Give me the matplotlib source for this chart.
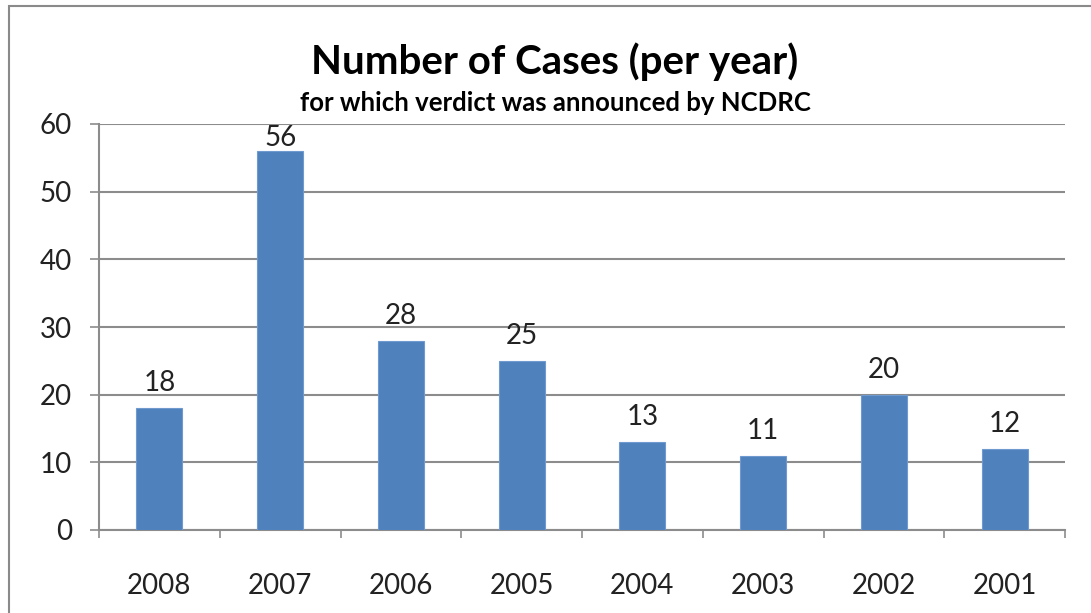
import matplotlib.pyplot as plt
from matplotlib.patches import Rectangle

# --- Data ---
years = ["2008", "2007", "2006", "2005", "2004", "2003", "2002", "2001"]
cases = [18, 56, 28, 25, 13, 11, 20, 12]
y_ticks = [0, 10, 20, 30, 40, 50, 60]

plt.rcParams['font.family'] = ['Lato', 'DejaVu Sans']

W, H = 1091, 613
fig = plt.figure(figsize=(W / 100, H / 100), dpi=100)
fig.patch.set_facecolor('white')

# chart frame (runs off the right and bottom edges)
fig.patches.append(Rectangle((9 / W, -0.05), 1.2, 1 - 6 / H + 0.05,
                             transform=fig.transFigure, fill=False,
                             edgecolor='#8a8a8a', linewidth=1.5))

# plot area in pixel coords
left, right, top, bottom = 99, 1065, 124, 530
ax = fig.add_axes([left / W, 1 - bottom / H, (right - left) / W, (bottom - top) / H])

x = range(len(years))
bars = ax.bar(x, cases, width=0.38, color='#4F81BD', edgecolor='#6f9ad0',
              linewidth=0.8, zorder=3)

# value labels above bars, kept inside the plot area
for xi, v in zip(x, cases):
    ax.text(xi, min(v + 2.5, 60 - 3.3), str(v), ha='center', va='baseline',
            fontsize=20, color='#222222')

ax.set_xlim(-0.5, len(years) - 0.5)
ax.set_ylim(0, 60)
ax.set_yticks(y_ticks)
ax.set_yticklabels([str(t) for t in y_ticks], fontsize=20, color='#222222')
ax.yaxis.grid(True, color='#8c8c8c', linewidth=1.5, zorder=0)
ax.set_axisbelow(True)

# category labels in the middle, tick marks on category boundaries
ax.set_xticks(list(x))
ax.set_xticklabels(years, fontsize=20, color='#222222')
ax.tick_params(axis='x', length=0, pad=31)
ax.set_xticks([i - 0.5 for i in range(len(years) + 1)], minor=True)
ax.tick_params(axis='x', which='minor', length=6, width=1.2, color='#8c8c8c', direction='out')
ax.tick_params(axis='y', length=6.5, width=1.2, color='#8c8c8c', pad=13)

for side in ['top', 'right']:
    ax.spines[side].set_visible(False)
ax.spines['left'].set_color('#8c8c8c')
ax.spines['left'].set_linewidth(1.5)
ax.spines['bottom'].set_color('#8c8c8c')
ax.spines['bottom'].set_linewidth(1.5)

# --- Titles ---
fig.text(555 / W, 1 - 62 / H, "Number of Cases (per year)", ha='center', va='center',
         fontsize=29, fontweight='bold', color='black')
fig.text(555 / W, 1 - 103 / H, "for which verdict was announced by NCDRC", ha='center',
         va='center', fontsize=18.5, fontweight='bold', color='black')

fig.savefig('out.png', dpi=100)
